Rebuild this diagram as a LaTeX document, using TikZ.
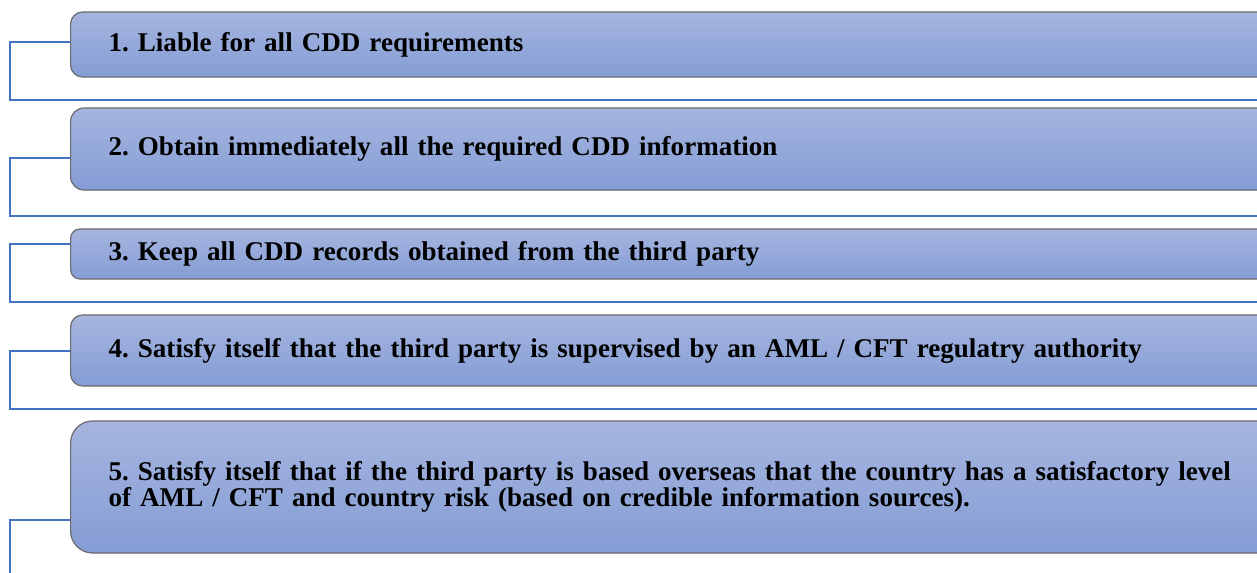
\documentclass[tikz,border=0pt]{standalone}
\usepackage{fontspec}
\setmainfont{Liberation Serif}
\usepackage{tikz}
\usetikzlibrary{positioning}

\definecolor{boxtop}{RGB}{166,181,223}
\definecolor{boxbot}{RGB}{132,157,213}
\definecolor{boxedge}{RGB}{105,105,110}
\definecolor{linkblue}{RGB}{68,114,196}
\newcommand{\itemfont}{\fontsize{20.3}{19.5}\selectfont\bfseries\lineskiplimit=-20pt\relax}

\begin{document}
\frenchspacing
\begin{tikzpicture}[x=0.75pt,y=-0.75pt,
  item/.style={draw=boxedge, line width=0.9pt, top color=boxtop, bottom color=boxbot,
    anchor=west, minimum width=937pt, text width=880pt, align=left, inner xsep=28.5pt,
    font=\itemfont},
  link/.style={draw=linkblue, line width=1pt}]
\clip (0,0) rectangle (1257,572);
\node[item, minimum height=48.75pt, rounded corners=9pt] (b1) at (70,44.5)
  {1. Liable for all CDD requirements};
\node[item, minimum height=61.5pt, rounded corners=10pt] (b2) at (70,149)
  {2. Obtain immediately all the required CDD information};
\node[item, minimum height=37.5pt, rounded corners=7pt] (b3) at (70,254)
  {3. Keep all CDD records obtained from the third party};
\node[item, minimum height=53.25pt, rounded corners=9pt] (b4) at (70,350.5)
  {4. Satisfy itself that the third party is supervised by an AML / CFT regulatry authority};
\node[item, minimum height=99pt, rounded corners=16.5pt] (b5) at (70,487)
  {5. Satisfy itself that if the third party is based overseas that the country has a satisfactory level\\
   of AML / CFT and country risk (based on credible information sources).};
% brackets on the left
\foreach \n/\ly/\by in {1/42/100, 2/158/216, 3/244/302, 4/351/409, 5/520/590}
  \draw[link] (b\n.west |- 0,\ly) -- (10,\ly) -- (10,\by) -- (1257,\by);
\end{tikzpicture}
\end{document}
